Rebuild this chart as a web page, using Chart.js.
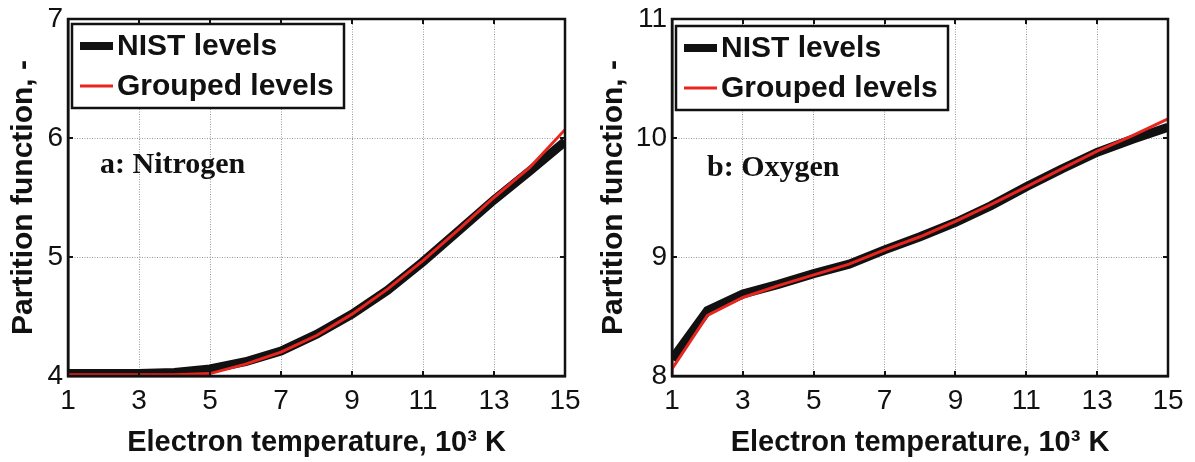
<!DOCTYPE html>
<html>
<head>
<meta charset="utf-8">
<script src="https://cdn.jsdelivr.net/npm/chart.js@4.4.1/dist/chart.umd.min.js"></script>
<style>
  html, body { margin: 0; padding: 0; background: #fff; width: 1195px; height: 462px; overflow: hidden; }
  #nitrogen { position: absolute; left: 0; top: 0; }
  #oxygen { position: absolute; left: 597px; top: 0; }
</style>
</head>
<body>
<canvas id="nitrogen" width="597" height="462"></canvas>
<canvas id="oxygen" width="598" height="462"></canvas>
<script>
// Electron temperature, 10^3 K
const temperature = [1, 2, 3, 4, 5, 6, 7, 8, 9, 10, 11, 12, 13, 14, 15];

// Nitrogen partition function
const nitrogenNist    = [4.02, 4.02, 4.02, 4.03, 4.06, 4.12, 4.21, 4.35, 4.52, 4.72, 4.96, 5.22, 5.48, 5.72, 5.97];
const nitrogenGrouped = [4.01, 4.01, 4.01, 4.01, 4.02, 4.10, 4.20, 4.34, 4.52, 4.73, 4.97, 5.23, 5.50, 5.75, 6.07];

// Oxygen partition function
const oxygenNist    = [8.14, 8.55, 8.69, 8.77, 8.86, 8.94, 9.06, 9.17, 9.29, 9.43, 9.59, 9.74, 9.88, 9.99, 10.09];
const oxygenGrouped = [8.06, 8.51, 8.66, 8.76, 8.85, 8.94, 9.06, 9.17, 9.30, 9.44, 9.59, 9.74, 9.89, 10.02, 10.16];

// Tick values
const xTicks = [1, 3, 5, 7, 9, 11, 13, 15];
const nitrogenYTicks = [4, 5, 6, 7];
const oxygenYTicks = [8, 9, 10, 11];

const seriesLabels = ['NIST levels', 'Grouped levels'];
const xTitle = 'Electron temperature, 10\u00B3 K';
const yTitle = 'Partition function, -';

Chart.defaults.font.family = '"Liberation Sans", Arial, Helvetica, sans-serif';
Chart.defaults.color = '#111';

// Box frame, inward tick marks, panel caption and legend
const framePlugin = {
  id: 'frame',
  afterDraw(chart, args, opts) {
    const { ctx, chartArea: a, scales: { x, y } } = chart;
    ctx.save();
    ctx.strokeStyle = '#111';
    ctx.lineWidth = 2.5;
    ctx.strokeRect(a.left, a.top, a.width, a.height);

    ctx.lineWidth = 2;
    ctx.beginPath();
    x.ticks.forEach(t => {
      const px = Math.round(x.getPixelForValue(t.value));
      ctx.moveTo(px, a.bottom); ctx.lineTo(px, a.bottom - 5);
      ctx.moveTo(px, a.top); ctx.lineTo(px, a.top + 5);
    });
    y.ticks.forEach(t => {
      const py = Math.round(y.getPixelForValue(t.value));
      ctx.moveTo(a.left, py); ctx.lineTo(a.left + 5, py);
      ctx.moveTo(a.right, py); ctx.lineTo(a.right - 5, py);
    });
    ctx.stroke();

    // caption
    ctx.fillStyle = '#111';
    ctx.font = 'bold 30px "Liberation Serif", "Times New Roman", serif';
    ctx.textBaseline = 'alphabetic';
    ctx.textAlign = 'left';
    ctx.fillText(opts.caption, a.left + opts.captionDx, a.top + opts.captionDy);

    // legend
    const bx = a.left + 4, by = a.top + opts.legendDy, bw = 272, bh = 84;
    ctx.fillStyle = '#fff';
    ctx.fillRect(bx, by, bw, bh);
    ctx.strokeStyle = '#111';
    ctx.lineWidth = 2.5;
    ctx.strokeRect(bx, by, bw, bh);
    const rows = [22, 62];
    chart.data.datasets.forEach((ds, i) => {
      const ly = by + rows[i];
      ctx.strokeStyle = ds.borderColor;
      ctx.lineWidth = ds.legendWidth;
      ctx.beginPath();
      ctx.moveTo(bx + 8, ly);
      ctx.lineTo(bx + 41, ly);
      ctx.stroke();
      ctx.fillStyle = '#111';
      ctx.font = 'bold 30px "Liberation Sans", Arial, sans-serif';
      ctx.textBaseline = 'middle';
      ctx.fillText(ds.label, bx + 45, ly + 1);
    });
    ctx.restore();
  }
};

function makePanel(id, nist, grouped, yTicks, pad, yTitlePad, caption, captionDx, captionDy, legendDy) {
  const yAxisWidth = pad.axisWidth;
  return new Chart(document.getElementById(id), {
    type: 'line',
    data: {
      labels: temperature,
      datasets: [
        {
          label: seriesLabels[0],
          data: temperature.map((t, i) => ({ x: t, y: nist[i] })),
          borderColor: '#111',
          borderWidth: 9,
          legendWidth: 8,
          pointRadius: 0,
          tension: 0,
          order: 1
        },
        {
          label: seriesLabels[1],
          data: temperature.map((t, i) => ({ x: t, y: grouped[i] })),
          borderColor: '#e8251f',
          borderWidth: 3,
          legendWidth: 3,
          pointRadius: 0,
          tension: 0,
          order: 0
        }
      ]
    },
    options: {
      responsive: false,
      animation: false,
      devicePixelRatio: 1,
      layout: { padding: { left: 0, right: pad.right, top: pad.top, bottom: 0 } },
      plugins: {
        legend: { display: false },
        tooltip: { enabled: false },
        frame: { caption, captionDx, captionDy, legendDy }
      },
      scales: {
        x: {
          type: 'linear',
          min: xTicks[0],
          max: xTicks[xTicks.length - 1],
          afterBuildTicks: s => { s.ticks = xTicks.map(v => ({ value: v })); },
          afterFit: s => { s.height = 86; },
          grid: { color: '#9a9a9a', lineWidth: 1, drawTicks: false },
          border: { display: true, color: '#111', width: 2.5, dash: [1, 1.5] },
          ticks: { padding: 8, font: { size: 28, lineHeight: 1.2 }, color: '#111', maxRotation: 0 },
          title: {
            display: true,
            text: xTitle,
            font: { size: 29, weight: 'bold', lineHeight: 1 },
            color: '#111',
            padding: { top: 0, bottom: 5 }
          }
        },
        y: {
          type: 'linear',
          min: yTicks[0],
          max: yTicks[yTicks.length - 1],
          afterBuildTicks: s => { s.ticks = yTicks.map(v => ({ value: v })); },
          afterFit: s => { s.width = yAxisWidth; },
          grid: { color: '#9a9a9a', lineWidth: 1, drawTicks: false },
          border: { display: true, color: '#111', width: 2.5, dash: [1, 1.5] },
          ticks: { padding: 5, font: { size: 28, lineHeight: 1 }, color: '#111' },
          title: {
            display: true,
            text: yTitle,
            font: { size: 30, weight: 'bold', lineHeight: 1 },
            color: '#111',
            padding: { top: yTitlePad, bottom: 0 }
          }
        }
      }
    },
    plugins: [framePlugin]
  });
}

makePanel('nitrogen', nitrogenNist, nitrogenGrouped, nitrogenYTicks,
  { axisWidth: 68, right: 32, top: 19 }, 9, 'a: Nitrogen', 32, 154, 5);
makePanel('oxygen', oxygenNist, oxygenGrouped, oxygenYTicks,
  { axisWidth: 75, right: 27, top: 16 }, 2, 'b: Oxygen', 35, 157, 7);
</script>
</body>
</html>
